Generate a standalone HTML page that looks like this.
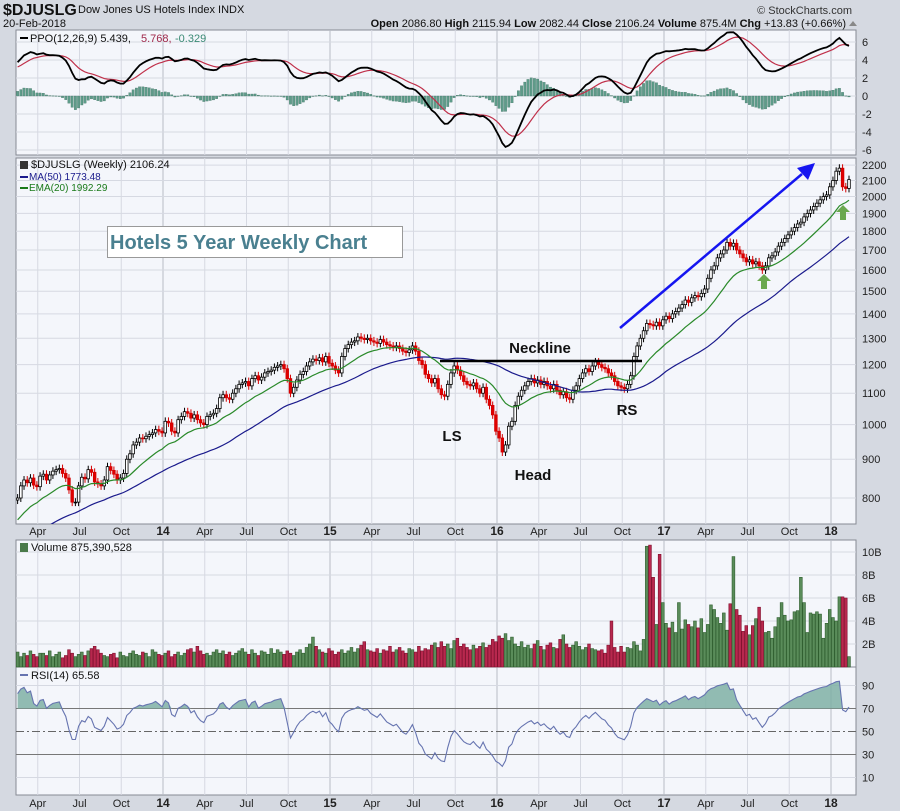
<!DOCTYPE html>
<html><head><meta charset="utf-8">
<style>
body{margin:0;background:#d5d9e1;font-family:"Liberation Sans",sans-serif;}
#wrap{position:relative;width:900px;height:811px;overflow:hidden;background:#d5d9e1;}
svg text{font-family:"Liberation Sans",sans-serif;}
</style></head>
<body>
<div id="wrap">
<svg id="svg" width="900" height="811" xmlns="http://www.w3.org/2000/svg"></svg>
</div>
<script>
// ---- data ----
const priorCloses = [620,625,632,640,636,645,650,658,655,662,670,668,675,682,678,670,660,655,648,652,660,668,675,672,680,690,695,700,698,705,712,720,715,708,700,710,718,725,730,722,735,745,750,742,755,765,770,778,785,795];
const closes = [800,830,845,838,850,832,828,855,860,845,858,868,872,875,862,850,820,790,790,830,852,848,872,865,840,835,830,845,880,870,860,845,850,862,900,915,940,948,960,958,965,970,975,985,980,975,1010,1005,980,975,1015,1025,1040,1035,1020,1030,1015,1005,1000,1025,1030,1035,1050,1085,1095,1085,1080,1100,1115,1130,1135,1140,1125,1150,1160,1145,1155,1170,1175,1180,1190,1195,1200,1185,1150,1100,1120,1145,1165,1175,1195,1210,1220,1215,1225,1210,1230,1205,1195,1180,1170,1230,1260,1275,1285,1290,1305,1300,1295,1300,1290,1285,1280,1295,1285,1275,1270,1265,1270,1260,1250,1245,1255,1270,1250,1215,1200,1165,1150,1135,1150,1115,1095,1090,1130,1170,1195,1180,1160,1140,1130,1125,1135,1115,1100,1120,1080,1060,1030,980,960,920,940,995,1010,1060,1090,1110,1125,1140,1150,1135,1145,1130,1140,1125,1115,1130,1110,1095,1105,1085,1080,1110,1125,1150,1170,1185,1175,1195,1210,1200,1190,1185,1170,1160,1140,1125,1120,1115,1130,1160,1230,1270,1300,1330,1360,1355,1350,1365,1350,1375,1390,1380,1400,1410,1425,1440,1460,1450,1470,1480,1475,1490,1510,1560,1600,1620,1660,1680,1700,1740,1720,1735,1700,1680,1660,1640,1650,1630,1640,1620,1600,1620,1660,1670,1690,1720,1740,1760,1780,1800,1820,1840,1850,1880,1900,1920,1940,1960,1980,2000,2010,2060,2100,2160,2180,2060,2050,2106];
const volumes = [1.1,1.3,0.9,1.2,1.0,1.4,1.1,0.9,1.2,1.2,1.0,1.4,0.9,1.1,1.3,0.8,1.0,1.5,1.2,0.9,1.1,1.3,1.0,1.4,1.6,1.8,1.5,1.2,1.0,0.9,1.1,1.2,0.8,1.3,1.0,0.9,1.2,1.4,1.1,1.0,1.3,1.2,0.9,1.5,1.3,1.1,1.0,1.2,1.4,0.9,1.1,1.3,1.0,1.2,1.5,1.6,1.3,1.8,1.4,1.1,1.2,1.0,1.3,1.5,1.2,1.4,1.1,1.3,1.0,1.2,1.4,1.6,1.3,1.1,1.5,1.2,1.0,1.4,1.3,1.1,1.6,1.2,1.5,1.3,1.1,1.4,1.2,1.0,1.3,1.5,1.2,1.7,2.0,2.6,1.8,1.5,1.3,1.2,1.6,1.4,1.1,1.3,1.5,1.2,1.4,1.7,1.3,1.6,1.9,2.2,1.5,1.4,1.3,1.6,1.2,1.5,1.4,1.8,1.3,1.5,1.7,1.4,1.2,1.6,1.5,1.3,1.8,1.4,1.6,1.5,1.9,2.1,1.7,2.2,1.8,2.0,1.6,2.3,2.5,1.8,2.0,1.7,1.5,1.9,1.6,1.8,2.1,1.7,1.9,2.4,2.2,2.7,2.5,2.9,2.3,2.6,2.0,1.8,2.2,1.7,1.9,1.6,2.0,2.3,1.8,1.5,1.9,2.1,1.7,1.6,2.4,2.8,2.0,1.7,1.9,2.2,1.8,1.5,1.7,2.0,1.6,1.5,1.4,1.5,1.2,1.9,4.0,1.7,1.3,1.8,1.3,1.7,1.6,2.2,1.9,1.4,2.4,10.5,10.6,7.8,3.7,9.8,5.6,3.8,3.4,3.9,3.0,5.6,3.3,4.1,3.7,3.5,4.0,3.4,4.2,3.0,3.7,5.4,5.0,4.3,3.8,4.7,3.2,5.5,9.6,5.0,4.5,3.1,3.6,2.8,3.6,4.2,5.2,4.0,3.0,3.1,2.5,3.5,4.3,5.6,4.5,4.0,4.1,4.8,4.9,7.8,5.6,3.0,4.7,4.6,4.8,4.6,2.5,3.8,5.0,4.3,4.0,6.1,6.1,6.0,0.9];
const priceTicks = [800,900,1000,1100,1200,1300,1400,1500,1600,1700,1800,1900,2000,2100,2200];
const ppoTicks = [6,4,2,0,-2,-4,-6];
const volTicks = [2,4,6,8,10];
const rsiTicks = [10,30,50,70,90];
const monthLabels = ['Apr','Jul','Oct','14','Apr','Jul','Oct','15','Apr','Jul','Oct','16','Apr','Jul','Oct','17','Apr','Jul','Oct','18'];
const monthIndex = [3,6,9,12,15,18,21,24,27,30,33,36,39,42,45,48,51,54,57,60]; // months since Jan 2013

// ---- geometry ----
const PL=16, PR=856;
const N = closes.length;
const xI = i => 849 - (N-1-i)*3.21;
const xV = i => 849 - (volumes.length-1-i)*3.21;
const xM = m => 163 + (m-12)*167/12;
const yP = p => 498 - 329*Math.log(p/800);
const yPPO = v => 96 - 9*v;
const yVol = v => 667 - 11.5*v;
const yRSI = v => 789 - 1.15*v;

const svg = document.getElementById('svg');
const NS='http://www.w3.org/2000/svg';
function mk(tag, attrs, parent){const e=document.createElementNS(NS,tag);for(const k in attrs)e.setAttribute(k,attrs[k]);(parent||svg).appendChild(e);return e;}
function txt(s, attrs, parent){const e=mk('text',attrs,parent);e.textContent=s;return e;}

// ---- indicators (computed over prior history + visible) ----
const all = priorCloses.concat(closes);
const P = priorCloses.length;
function ema(arr,n){const k=2/(n+1);const o=[];arr.forEach((v,i)=>o.push(i?v*k+o[i-1]*(1-k):v));return o;}
const eA20=ema(all,20), eA12=ema(all,12), eA26=ema(all,26);
const maA=all.map((v,i)=>{const s=Math.max(0,i-49);const a=all.slice(s,i+1);return a.reduce((x,y)=>x+y,0)/a.length;});
const ppoA=all.map((v,i)=>(eA12[i]-eA26[i])/eA26[i]*100);
const sigA=ema(ppoA,9);
const rsiA=[];{let ag=0,al=0;for(let i=0;i<all.length;i++){if(i===0){rsiA.push(50);continue;}const d=all[i]-all[i-1];const g=Math.max(d,0),l=Math.max(-d,0);if(i<=14){ag+=g/14;al+=l/14;}else{ag=(ag*13+g)/14;al=(al*13+l)/14;}rsiA.push(al===0?100:100-100/(1+ag/al));}}
const ema20=eA20.slice(P), ma50=maA.slice(P), ppo=ppoA.slice(P), sig=sigA.slice(P), rsi=rsiA.slice(P);

// ---- panels ----
const panels=[['ppo-panel',30,155],['price-panel',158,524],['volume-panel',540,667],['rsi-panel',667,795]];
panels.forEach(p=>{const r=mk('rect',{x:PL,y:p[1],width:PR-PL,height:p[2]-p[1],fill:'#f4f6fb',stroke:'#868a94','stroke-width':1});

});

panels.forEach(p=>{monthIndex.forEach((m,j)=>{const x=xM(m);const yr=!isNaN(+monthLabels[j]);
const l=mk('line',{x1:x,x2:x,y1:p[1],y2:p[2],stroke:yr?'#b8bcc6':'#d6d9e2','stroke-width':1});

});});

[531,803].forEach(yy=>{monthIndex.forEach((m,j)=>{const yr=!isNaN(+monthLabels[j]);
const t=txt(monthLabels[j],{x:xM(m),y:yy+4,'font-size':yr?12:11,'font-weight':yr?'bold':'normal','text-anchor':'middle',fill:'#222'});

});});

// ---- PPO ----
ppoTicks.forEach(v=>{const y=yPPO(v);const l=mk('line',{x1:PL,x2:PR,y1:y,y2:y,stroke:'#d6d9e2'});


const t=txt(String(v),{x:862,y:y+4,'font-size':11,fill:'#222'});

});
ppo.forEach((v,i)=>{const h=v-sig[i];const y0=yPPO(0),y1=yPPO(h);
const r=mk('rect',{x:xI(i)-1.2,y:Math.min(y0,y1),width:2.4,height:Math.max(0.5,Math.abs(y1-y0)),fill:'#5e9c8a',stroke:'#3f6f60','stroke-width':0.3});

});
function poly(arr,fy,color,w,name,start){let d='';arr.forEach((v,i)=>{if(i<start)return;d+=(d?'L':'M')+xI(i).toFixed(1)+','+fy(v).toFixed(1);});
const p=mk('path',{d:d,fill:'none',stroke:color,'stroke-width':w});

return p;}
const clipP=mk('clipPath',{id:'cppo'});mk('rect',{x:PL,y:30,width:PR-PL,height:125},clipP);
const clipM=mk('clipPath',{id:'cmain'});mk('rect',{x:PL,y:158,width:PR-PL,height:366},clipM);
poly(sig,yPPO,'#c0304a',1.2,'ppo-signal-line',0).setAttribute('clip-path','url(#cppo)');
poly(ppo,yPPO,'#000',1.8,'ppo-line',0).setAttribute('clip-path','url(#cppo)');
txt('PPO(12,26,9) 5.439, ',{x:30,y:42,'font-size':11,fill:'#111'});
const pl2=txt('5.768, ',{x:141,y:42,'font-size':11,fill:'#a0284a'});
const pl3=txt('-0.329',{x:175,y:42,'font-size':11,fill:'#3a8a74'});
mk('rect',{x:20,y:37,width:8,height:2,fill:'#000'});

// ---- price ----
priceTicks.forEach(v=>{const y=yP(v);const l=mk('line',{x1:PL,x2:PR,y1:y,y2:y,stroke:'#d6d9e2'});


const t=txt(String(v),{x:862,y:y+4,'font-size':11,fill:'#222'});

});
const gC=mk('g',{'clip-path':'url(#cmain)'});
closes.forEach((c,i)=>{const o=i?closes[i-1]:priorCloses[P-1];const hi=Math.max(o,c)*1.012, lo=Math.min(o,c)*0.988;const up=c>=o;const x=xI(i);
const w=mk('line',{x1:x,x2:x,y1:yP(hi),y2:yP(lo),stroke:up?'#000':'#d40000','stroke-width':1},gC);


const b=mk('rect',{x:x-1.3,y:yP(Math.max(o,c)),width:2.6,height:Math.max(0.8,yP(Math.min(o,c))-yP(Math.max(o,c))),fill:up?'#fff':'#e00000',stroke:up?'#000':'#d40000','stroke-width':0.8},gC);

});
poly(ma50,yP,'#1a1a8c',1.2,'ma50-line',0).setAttribute('clip-path','url(#cmain)');
poly(ema20,yP,'#2a8a2a',1.2,'ema20-line',0).setAttribute('clip-path','url(#cmain)');
txt('$DJUSLG (Weekly) 2106.24',{x:31,y:168,'font-size':11,fill:'#111'});
mk('rect',{x:20,y:161,width:8,height:8,fill:'#333'});
mk('rect',{x:20,y:176,width:8,height:2,fill:'#1a1a8c'});
txt('MA(50) 1773.48',{x:29,y:180,'font-size':10,fill:'#1a1a8c'});
mk('rect',{x:20,y:187,width:8,height:2,fill:'#1a7a1a'});
txt('EMA(20) 1992.29',{x:29,y:191,'font-size':10,fill:'#1a7a1a'});
const tb=mk('rect',{x:107.5,y:226.5,width:295,height:31,fill:'#fff',stroke:'#999','stroke-width':1});


txt('Hotels 5 Year Weekly Chart',{x:110,y:249,'font-size':20,'font-weight':'bold',fill:'#4a8090'});
mk('line',{x1:440,x2:642,y1:361,y2:361,stroke:'#000','stroke-width':2.5});
[['Neckline',540,353,'neckline-label'],['LS',452,441,'ls-label'],['Head',533,480,'head-label'],['RS',627,415,'rs-label']].forEach(a=>{
const t=txt(a[0],{x:a[1],y:a[2],'font-size':15,'font-weight':'bold','text-anchor':'middle',fill:'#111'});

});
mk('line',{x1:620,y1:328,x2:802,y2:174,stroke:'#1515f0','stroke-width':2.5});
mk('polygon',{points:'815,163 797,168 808,180',fill:'#1515f0'});
[[764,282],[843,213]].forEach(p=>{const g=mk('polygon',{points:`${p[0]},${p[1]-8} ${p[0]+7},${p[1]-1} ${p[0]+3},${p[1]-1} ${p[0]+3},${p[1]+7} ${p[0]-3},${p[1]+7} ${p[0]-3},${p[1]-1} ${p[0]-7},${p[1]-1}`,fill:'#6aa84f'});

});

// ---- volume ----
volTicks.forEach(v=>{const y=yVol(v);const l=mk('line',{x1:PL,x2:PR,y1:y,y2:y,stroke:'#d6d9e2'});


const t=txt(v+'B',{x:862,y:y+4,'font-size':11,fill:'#222'});

});
const vOff = volumes.length - N;
volumes.forEach((v,i)=>{const ci=i-vOff;const up=ci<=0||closes[ci]>=closes[ci-1];
const x=xV(i);if(x<PL+1)return;
const r=mk('rect',{x:x-1.4,y:yVol(v),width:2.8,height:yVol(0)-yVol(v),fill:up?'#5a8c5a':'#b8284e',stroke:up?'#2e5e2e':'#80102e','stroke-width':0.6});

});
txt('Volume 875,390,528',{x:31,y:551,'font-size':11,fill:'#111'});
mk('rect',{x:20,y:543,width:8,height:9,fill:'#4a7a4a'});

// ---- RSI ----
rsiTicks.forEach(v=>{const y=yRSI(v);const l=mk('line',{x1:PL,x2:PR,y1:y,y2:y,stroke:v===70||v===30?'#777':(v===50?'#666':'#d6d9e2'),'stroke-width':1,'stroke-dasharray':v===50?'8,3,2,3':'none'});


const t=txt(String(v),{x:862,y:y+4,'font-size':11,fill:'#222'});

});
let fd='M'+xI(0)+','+yRSI(70);rsi.forEach((v,i)=>{fd+='L'+xI(i).toFixed(1)+','+yRSI(Math.max(70,v)).toFixed(1);});fd+='L'+xI(N-1)+','+yRSI(70)+'Z';
const rf=mk('path',{d:fd,fill:'#7fb0a4',opacity:0.85});


poly(rsi,yRSI,'#6674b0',1.1,'rsi-line',0);
txt('RSI(14) 65.58',{x:31,y:679,'font-size':11,fill:'#111'});
mk('rect',{x:20,y:674,width:8,height:2,fill:'#6674b0'});

// ---- header ----
txt('$DJUSLG',{x:3,y:15,'font-size':16,'font-weight':'bold',fill:'#111'});
txt('Dow Jones US Hotels Index  INDX',{x:78,y:13,'font-size':11,fill:'#111'});
txt('20-Feb-2018',{x:3,y:27,'font-size':11,fill:'#111'});
txt('© StockCharts.com',{x:852,y:14,'font-size':11,'text-anchor':'end',fill:'#333'});
const q=txt('',{x:846,y:27,'font-size':11,'text-anchor':'end',fill:'#111'});

q.innerHTML='<tspan font-weight="bold">Open</tspan> 2086.80 <tspan font-weight="bold">High</tspan> 2115.94 <tspan font-weight="bold">Low</tspan> 2082.44 <tspan font-weight="bold">Close</tspan> 2106.24 <tspan font-weight="bold">Volume</tspan> 875.4M <tspan font-weight="bold">Chg</tspan> +13.83 (+0.66%)';
mk('polygon',{points:'849,26 857,26 853,21',fill:'#888'});
</script>
</body></html>
